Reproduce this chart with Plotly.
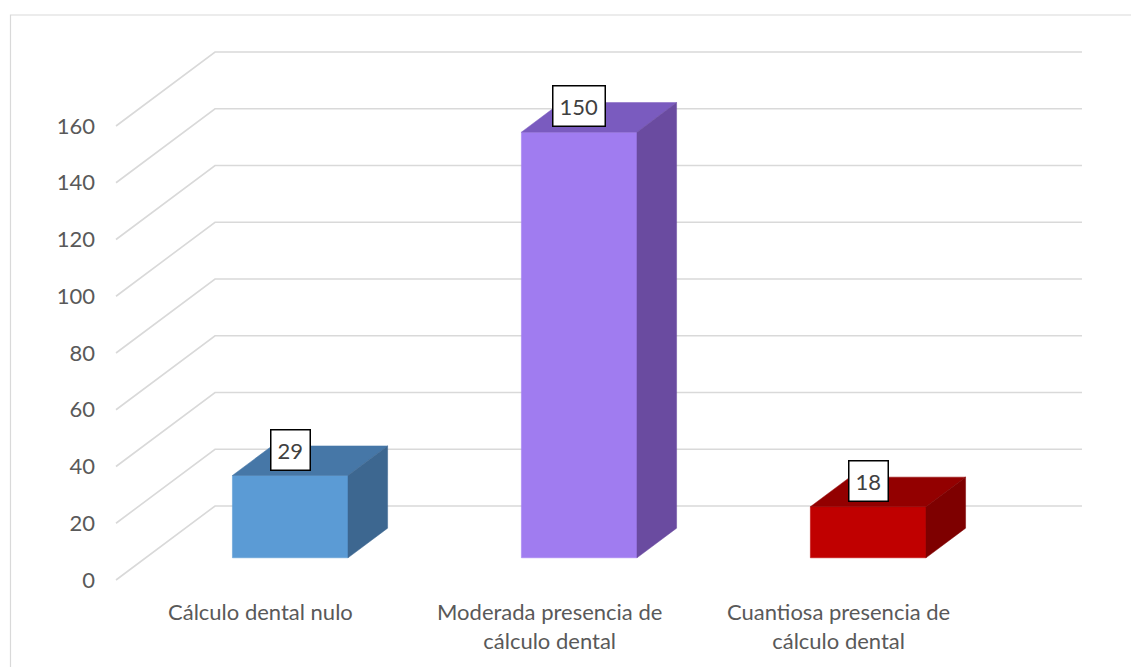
import plotly.graph_objects as go

# Chart data
categories = [
    "Cálculo dental nulo",
    "Moderada presencia de<br>cálculo dental",
    "Cuantiosa presencia de<br>cálculo dental",
]
values = [29, 150, 18]
y_ticks = [0, 20, 40, 60, 80, 100, 120, 140, 160]

# Face colours per bar: front, top, side
front_colors = ["#5B9BD5", "#A07CF0", "#C00000"]
top_colors = ["#4677A7", "#7A5BBF", "#930000"]
side_colors = ["#3D6790", "#6A4BA0", "#7E0000"]

# Oblique 3D projection: depth offset in axis units
DX = 0.3426   # horizontal shift of the back wall (category units)
DY = 26.08    # vertical shift of the back wall (value units)
Z_FRONT, Z_BACK = 0.3, 0.7   # bar depth position
HALF_W = 0.2                 # half bar width (category units)

GRID = "#D9D9D9"
FONT = "Lato"
TEXT = "#595959"


def proj(x, y, z):
    return x + z * DX, y + z * DY


def poly(points, color):
    xs, ys = zip(*[proj(*p) for p in points])
    xs = list(xs) + [xs[0]]
    ys = list(ys) + [ys[0]]
    return go.Scatter(
        x=xs, y=ys, mode="lines", fill="toself", fillcolor=color,
        line=dict(color=color, width=0.5), hoverinfo="skip", showlegend=False,
    )


fig = go.Figure()

# Walls' gridlines: diagonal on the side wall, then horizontal along the back wall
n = len(categories)
for v in y_ticks:
    x0, y0 = proj(0, v, 0)
    x1, y1 = proj(0, v, 1)
    x2, y2 = proj(n, v, 1)
    fig.add_trace(go.Scatter(
        x=[x0, x1, x2], y=[y0, y1, y2], mode="lines",
        line=dict(color=GRID, width=1.6), hoverinfo="skip", showlegend=False,
    ))

# 3D bars
for i, v in enumerate(values):
    xl, xr = i + 0.5 - HALF_W, i + 0.5 + HALF_W
    fig.add_trace(poly([(xl, 0, Z_FRONT), (xr, 0, Z_FRONT), (xr, v, Z_FRONT), (xl, v, Z_FRONT)],
                       front_colors[i]))
    fig.add_trace(poly([(xl, v, Z_FRONT), (xr, v, Z_FRONT), (xr, v, Z_BACK), (xl, v, Z_BACK)],
                       top_colors[i]))
    fig.add_trace(poly([(xr, 0, Z_FRONT), (xr, 0, Z_BACK), (xr, v, Z_BACK), (xr, v, Z_FRONT)],
                       side_colors[i]))

annotations = []
# Value labels in boxes
for i, v in enumerate(values):
    lx, ly = proj(i + 0.5, v, Z_FRONT)
    annotations.append(dict(
        x=lx, y=ly, xref="x", yref="y", text=str(v), showarrow=False,
        yshift=26, font=dict(family=FONT, size=22, color="#404040"),
        bgcolor="white", bordercolor="black", borderwidth=1.5, borderpad=6,
    ))

# Category labels under the floor's front edge
for i, c in enumerate(categories):
    annotations.append(dict(
        x=i + 0.5, y=0, xref="x", yref="y", text=c, showarrow=False,
        yanchor="top", yshift=-16, align="center",
        font=dict(family=FONT, size=22, color=TEXT),
    ))

fig.update_layout(
    width=1131, height=667, autosize=False,
    margin=dict(l=100, r=31, t=20, b=67),
    paper_bgcolor="white", plot_bgcolor="white",
    showlegend=False,
    annotations=annotations,
    xaxis=dict(range=[-0.0554, 3.405], visible=False, fixedrange=True),
    yaxis=dict(
        range=[-7.048, 197.36], tickvals=y_ticks, ticktext=[str(t) for t in y_ticks],
        showgrid=False, zeroline=False, showline=False, ticks="",
        tickfont=dict(family=FONT, size=22, color=TEXT), ticklabelstandoff=4,
        fixedrange=True,
    ),
    shapes=[dict(
        type="rect", xref="paper", yref="paper",
        x0=-0.0895, x1=1.2, y0=-0.2, y1=1.0086,
        line=dict(color="#D9D9D9", width=1.2), fillcolor="rgba(0,0,0,0)", layer="below",
    )],
)

fig.write_html("out.html")
